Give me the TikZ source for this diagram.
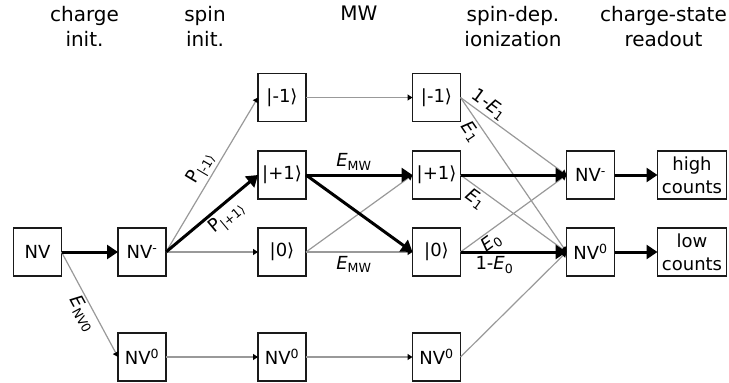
\documentclass[tikz,border=0pt]{standalone}
\usepackage{fontspec}
\setmainfont{DejaVu Sans}
\usetikzlibrary{positioning, arrows.meta}
\definecolor{clrline}{HTML}{999999}
\definecolor{clrborder}{HTML}{1A1A1A}
\newcommand{\kt}[1]{|#1⟩}

\begin{document}
\begin{tikzpicture}[
    x=1pt, y=-1pt,
    every node/.style={font=\fontsize{18}{23}\selectfont},
    box/.style={draw=clrborder, line width=1.4pt, minimum width=48pt, minimum height=48pt,
                inner sep=0pt, outer sep=0pt, align=center},
    countbox/.style={box, minimum width=69pt},
    header/.style={anchor=north, inner sep=0pt, align=center, font=\fontsize{20}{25}\selectfont},
    faint/.style={-{Triangle[length=5pt, width=6pt, color=black]}, draw=clrline, line width=1.2pt},
    strong/.style={-{Triangle[length=11pt, width=14pt]}, draw=black, line width=3pt},
    lbl/.style={sloped, inner sep=2pt},
]
\useasboundingbox (0,0) rectangle (729,383);
\node[header] (h_1) at (84.5,6) {charge\\init.};
\node[header] (h_2) at (205,6) {spin\\init.};
\node[header] (h_3) at (359,6) {MW};
\node[header] (h_4) at (513,6) {spin-dep.\\ionization};
\node[header] (h_5) at (663.5,6) {charge-state\\readout};
\node[box] (n_nv) at (37.5,252) {NV};
\node[box, right=56.5pt of n_nv] (n_nvm) {NV\textsuperscript{-}};
\node[box, below=57pt of n_nvm] (n_nvz_a) {NV\textsuperscript{0}};
\node[box, right=92pt of n_nvm] (n_z_a) {\kt{0}};
\node[box, above=29pt of n_z_a] (n_p_a) {\kt{+1}};
\node[box, above=29.5pt of n_p_a] (n_m_a) {\kt{-1}};
\node[box, right=92pt of n_nvz_a] (n_nvz_b) {NV\textsuperscript{0}};
\node[box, right=106.5pt of n_m_a] (n_m_b) {\kt{-1}};
\node[box, right=106.5pt of n_p_a] (n_p_b) {\kt{+1}};
\node[box, right=106.5pt of n_z_a] (n_z_b) {\kt{0}};
\node[box, right=106.5pt of n_nvz_b] (n_nvz_c) {NV\textsuperscript{0}};
\node[box, right=106pt of n_p_b] (n_nvm_r) {NV\textsuperscript{-}};
\node[box, right=106pt of n_z_b] (n_nvz_r) {NV\textsuperscript{0}};
\node[countbox, right=43pt of n_nvm_r] (n_high) {high\\counts};
\node[countbox, right=43pt of n_nvz_r] (n_low) {low\\counts};
\draw[faint] (n_nv.east) -- node[lbl, below, pos=0.54] {\textit{E}\textsubscript{NV0}} (n_nvz_a.west);
\draw[faint] (n_nvm.east) -- node[lbl, above, pos=0.5] {P\textsubscript{\kt{-1}}} (n_m_a.west);
\draw[faint] (n_nvm.east) -- (n_z_a.west);
\draw[faint] (n_nvz_a.east) -- (n_nvz_b.west);
\draw[faint] (n_m_a.east) -- (n_m_b.west);
\draw[faint] (n_z_a.east) -- (n_p_b.west);
\draw[faint] (n_z_a.east) -- node[below, pos=0.45] {\textit{E}\textsubscript{MW}} (n_z_b.west);
\draw[faint] (n_nvz_b.east) -- (n_nvz_c.west);
\draw[faint] (n_m_b.east) -- node[lbl, above, pos=0.21] {1-\textit{E}\textsubscript{1}} (n_nvm_r.west);
\draw[faint] (n_m_b.east) -- node[lbl, below, pos=0.18] {\textit{E}\textsubscript{1}} (n_nvz_r.west);
\draw[faint] (n_p_b.east) -- node[lbl, below, pos=0.2] {\textit{E}\textsubscript{1}} (n_nvz_r.west);
\draw[faint] (n_z_b.east) -- node[lbl, below, pos=0.23] {\textit{E}\textsubscript{0}} (n_nvm_r.west);
\draw[faint] (n_nvz_c.east) -- (n_nvz_r.west);
\draw[strong] (n_nv.east) -- (n_nvm.west);
\draw[strong] (n_nvm.east) -- node[lbl, below, pos=0.57] {P\textsubscript{\kt{+1}}} (n_p_a.west);
\draw[strong] (n_p_a.east) -- node[above, pos=0.45] {\textit{E}\textsubscript{MW}} (n_p_b.west);
\draw[strong] (n_p_a.east) -- (n_z_b.west);
\draw[strong] (n_p_b.east) -- (n_nvm_r.west);
\draw[strong] (n_z_b.east) -- node[below, pos=0.32] {1-\textit{E}\textsubscript{0}} (n_nvz_r.west);
\draw[strong] (n_nvm_r.east) -- (n_high.west);
\draw[strong] (n_nvz_r.east) -- (n_low.west);
\end{tikzpicture}
\end{document}
